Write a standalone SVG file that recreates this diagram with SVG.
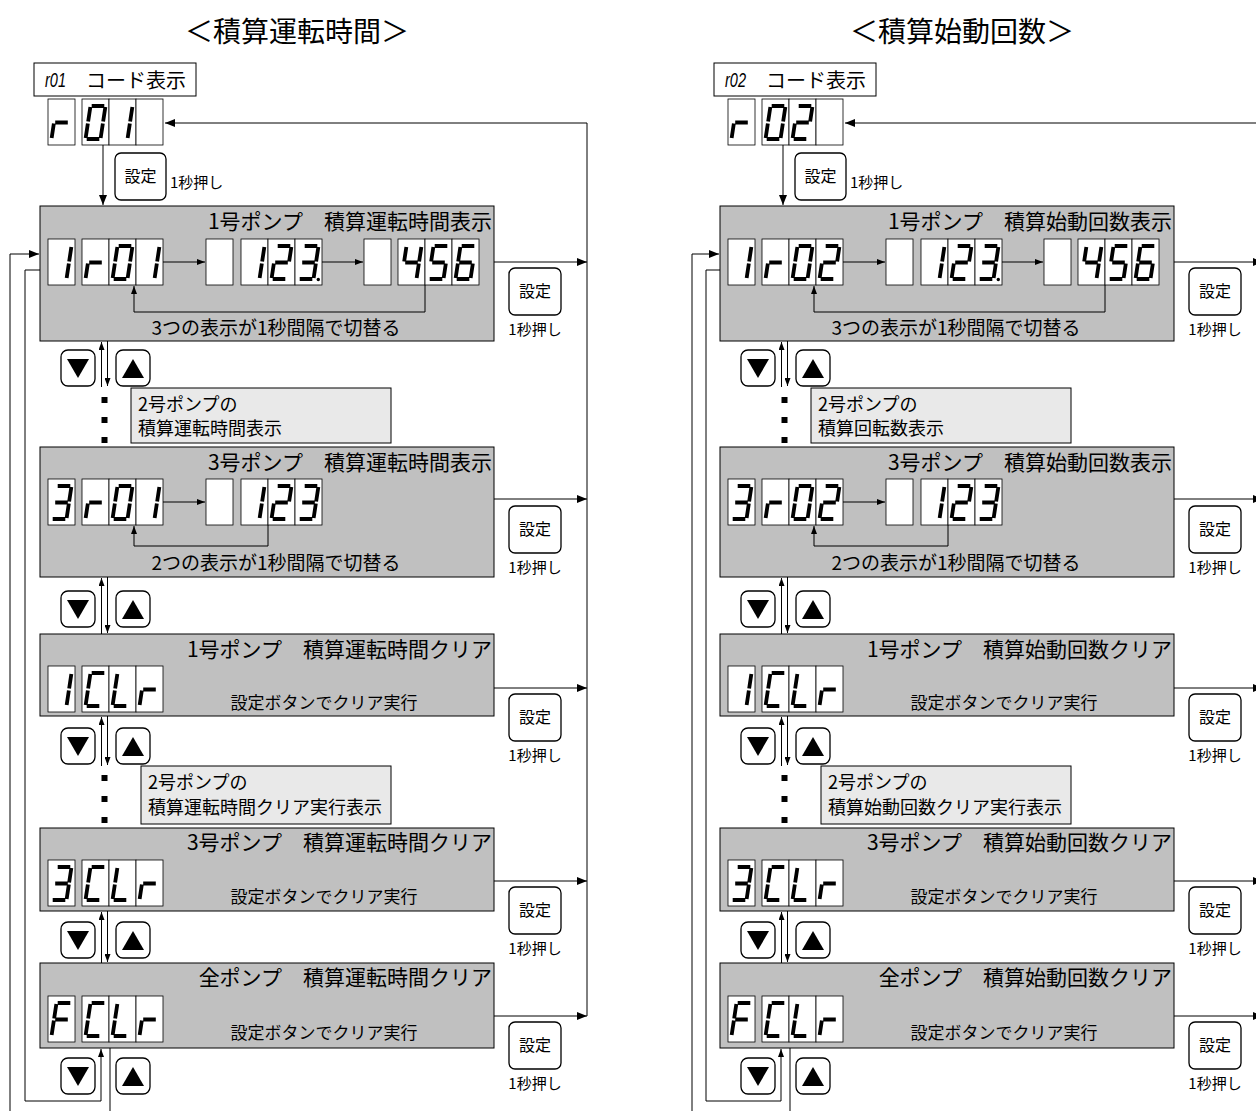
<svg xmlns="http://www.w3.org/2000/svg" width="1256" height="1111" viewBox="0 0 1256 1111">
<style>
text{font-family:"Noto Sans CJK JP","Noto Sans",sans-serif;fill:#000}
.ttl{font-size:28px;text-anchor:middle}
.lbl{font-size:20px}
.it{font-family:"Liberation Sans",Arial,sans-serif;font-style:italic;font-size:20px}
.box{fill:#c0c0c0;stroke:#000;stroke-width:1}
.note{fill:#e9e9e9;stroke:#000;stroke-width:1}
.wbox{fill:#fff;stroke:#000;stroke-width:1}
.bt{font-size:21px;text-anchor:end}
.sub{font-size:19px;text-anchor:middle}
.clr{font-size:17px;text-anchor:middle}
.nt{font-size:18px}
.set{font-size:16px;text-anchor:middle}
.sec{font-size:15px;text-anchor:middle}
.btn{fill:#fff;stroke:#000;stroke-width:1.3}
.cell{fill:#fff;stroke:#000;stroke-width:0.8}
.seg{fill:none;stroke:#000;stroke-width:3.8}
.ln{fill:none;stroke:#000;stroke-width:1}
.dot{fill:#000}
</style>
<defs>
<marker id="ah" viewBox="0 0 10 8" refX="10" refY="4" markerWidth="10" markerHeight="8" markerUnits="userSpaceOnUse" orient="auto"><path d="M0 0L10 4L0 8z"/></marker>
<marker id="as" viewBox="0 0 8 6" refX="8" refY="3" markerWidth="8" markerHeight="6" markerUnits="userSpaceOnUse" orient="auto"><path d="M0 0L8 3L0 6z"/></marker>
<g id="kb"><rect class="cell" width="27" height="46"/></g>
<g id="k0"><rect class="cell" width="27" height="46"/><path class="seg" d="M9.7 7H22.3M23.35 8L21.15 22.5M20.85 24.5L18.65 39M4.7 40H17.3M5.85 24.5L3.65 39M8.35 8L6.15 22.5"/></g>
<g id="k1"><rect class="cell" width="27" height="46"/><path class="seg" d="M23.35 8L21.15 22.5M20.85 24.5L18.65 39"/></g>
<g id="k2"><rect class="cell" width="27" height="46"/><path class="seg" d="M9.7 7H22.3M23.35 8L21.15 22.5M7.2 23.5H19.8M5.85 24.5L3.65 39M4.7 40H17.3"/></g>
<g id="k3"><rect class="cell" width="27" height="46"/><path class="seg" d="M9.7 7H22.3M23.35 8L21.15 22.5M7.2 23.5H19.8M20.85 24.5L18.65 39M4.7 40H17.3"/></g>
<g id="k3d"><rect class="cell" width="27" height="46"/><path class="seg" d="M9.7 7H22.3M23.35 8L21.15 22.5M7.2 23.5H19.8M20.85 24.5L18.65 39M4.7 40H17.3"/><circle cx="23.3" cy="40.5" r="1.7"/></g>
<g id="k4"><rect class="cell" width="27" height="46"/><path class="seg" d="M8.35 8L6.15 22.5M7.2 23.5H19.8M23.35 8L21.15 22.5M20.85 24.5L18.65 39"/></g>
<g id="k5"><rect class="cell" width="27" height="46"/><path class="seg" d="M9.7 7H22.3M8.35 8L6.15 22.5M7.2 23.5H19.8M20.85 24.5L18.65 39M4.7 40H17.3"/></g>
<g id="k6"><rect class="cell" width="27" height="46"/><path class="seg" d="M9.7 7H22.3M8.35 8L6.15 22.5M7.2 23.5H19.8M5.85 24.5L3.65 39M20.85 24.5L18.65 39M4.7 40H17.3"/></g>
<g id="kr"><rect class="cell" width="27" height="46"/><path class="seg" d="M5.85 24.5L3.65 39M7.2 23.5H19.8"/></g>
<g id="kC"><rect class="cell" width="27" height="46"/><path class="seg" d="M9.7 7H22.3M8.35 8L6.15 22.5M5.85 24.5L3.65 39M4.7 40H17.3"/></g>
<g id="kL"><rect class="cell" width="27" height="46"/><path class="seg" d="M8.35 8L6.15 22.5M5.85 24.5L3.65 39M4.7 40H17.3"/></g>
<g id="kF"><rect class="cell" width="27" height="46"/><path class="seg" d="M9.7 7H22.3M8.35 8L6.15 22.5M7.2 23.5H19.8M5.85 24.5L3.65 39"/></g>
<g id="bdn"><rect class="btn" width="34" height="36" rx="7"/><path d="M6 9H28L17 28z"/></g>
<g id="bup"><rect class="btn" width="34" height="36" rx="7"/><path d="M6 28H28L17 9z"/></g>
</defs>

<rect width="1256" height="1111" fill="#fff"/>

<!-- ===== LEFT PANEL ===== -->
<g id="title-left"><text class="ttl" x="297" y="42">＜積算運転時間＞</text></g>

<g id="L-code">
<rect class="wbox" x="34" y="63" width="162" height="33"/>
<text class="it" x="45" y="87" textLength="21" lengthAdjust="spacingAndGlyphs">r01</text>
<text class="lbl" x="86" y="88">コード表示</text>
<use href="#kr" x="48" y="99"/><use href="#k0" x="82" y="99"/><use href="#k1" x="109" y="99"/><use href="#kb" x="136" y="99"/>
</g>
<g id="L-set0"><rect class="btn" x="115" y="153" width="51" height="47" rx="6"/><text class="set" x="140.5" y="182">設定</text><text class="sec" x="170" y="188" style="text-anchor:start">1秒押し</text></g>

<g id="L-box1">
<rect class="box" x="40" y="206" width="454" height="135"/>
<text class="bt" x="492" y="229">1号ポンプ　積算運転時間表示</text>
<use href="#k1" x="48" y="239"/><use href="#kr" x="82" y="239"/><use href="#k0" x="109" y="239"/><use href="#k1" x="136" y="239"/>
<use href="#kb" x="206" y="239"/><use href="#k1" x="241" y="239"/><use href="#k2" x="268" y="239"/><use href="#k3d" x="295" y="239"/>
<use href="#kb" x="364" y="239"/><use href="#k4" x="398" y="239"/><use href="#k5" x="425" y="239"/><use href="#k6" x="452" y="239"/>
<text class="sub" x="276" y="335">3つの表示が1秒間隔で切替る</text>
</g>
<g id="L-set1"><rect class="btn" x="509" y="268" width="52" height="47" rx="6"/><text class="set" x="535" y="297">設定</text><text class="sec" x="535" y="335">1秒押し</text></g>
<g id="L-ud1"><use href="#bdn" x="61" y="350"/><use href="#bup" x="116" y="350"/></g>
<g id="L-dots1"><rect class="dot" x="101.5" y="397" width="6" height="6"/><rect class="dot" x="101.5" y="417" width="6" height="6"/><rect class="dot" x="101.5" y="437" width="6" height="6"/></g>
<g id="L-note1"><rect class="note" x="131" y="388" width="260" height="55"/><text class="nt" x="138" y="411">2号ポンプの</text><text class="nt" x="138" y="435">積算運転時間表示</text></g>

<g id="L-box3">
<rect class="box" x="40" y="447" width="454" height="130"/>
<text class="bt" x="492" y="470">3号ポンプ　積算運転時間表示</text>
<use href="#k3" x="48" y="479"/><use href="#kr" x="82" y="479"/><use href="#k0" x="109" y="479"/><use href="#k1" x="136" y="479"/>
<use href="#kb" x="206" y="479"/><use href="#k1" x="241" y="479"/><use href="#k2" x="268" y="479"/><use href="#k3" x="295" y="479"/>
<text class="sub" x="276" y="570">2つの表示が1秒間隔で切替る</text>
</g>
<g id="L-set3"><rect class="btn" x="509" y="506" width="52" height="47" rx="6"/><text class="set" x="535" y="535">設定</text><text class="sec" x="535" y="573">1秒押し</text></g>
<g id="L-ud2"><use href="#bdn" x="61" y="591"/><use href="#bup" x="116" y="591"/></g>

<g id="L-clr1">
<rect class="box" x="40" y="634" width="454" height="82"/>
<text class="bt" x="492" y="657">1号ポンプ　積算運転時間クリア</text>
<use href="#k1" x="48" y="666"/><use href="#kC" x="82" y="666"/><use href="#kL" x="109" y="666"/><use href="#kr" x="136" y="666"/>
<text class="clr" x="324" y="709">設定ボタンでクリア実行</text>
</g>
<g id="L-setc1"><rect class="btn" x="509" y="694" width="52" height="47" rx="6"/><text class="set" x="535" y="723">設定</text><text class="sec" x="535" y="761">1秒押し</text></g>
<g id="L-ud3"><use href="#bdn" x="61" y="728"/><use href="#bup" x="116" y="728"/></g>
<g id="L-dots2"><rect class="dot" x="101.5" y="775" width="6" height="6"/><rect class="dot" x="101.5" y="796" width="6" height="6"/><rect class="dot" x="101.5" y="817" width="6" height="6"/></g>
<g id="L-note2"><rect class="note" x="141" y="766" width="250" height="58"/><text class="nt" x="148" y="789">2号ポンプの</text><text class="nt" x="148" y="814">積算運転時間クリア実行表示</text></g>

<g id="L-clr3">
<rect class="box" x="40" y="828" width="454" height="83"/>
<text class="bt" x="492" y="850">3号ポンプ　積算運転時間クリア</text>
<use href="#k3" x="48" y="860"/><use href="#kC" x="82" y="860"/><use href="#kL" x="109" y="860"/><use href="#kr" x="136" y="860"/>
<text class="clr" x="324" y="903">設定ボタンでクリア実行</text>
</g>
<g id="L-setc3"><rect class="btn" x="509" y="887" width="52" height="47" rx="6"/><text class="set" x="535" y="916">設定</text><text class="sec" x="535" y="954">1秒押し</text></g>
<g id="L-ud4"><use href="#bdn" x="61" y="922"/><use href="#bup" x="116" y="922"/></g>

<g id="L-fclr">
<rect class="box" x="40" y="963" width="454" height="85"/>
<text class="bt" x="492" y="985">全ポンプ　積算運転時間クリア</text>
<use href="#kF" x="48" y="996"/><use href="#kC" x="82" y="996"/><use href="#kL" x="109" y="996"/><use href="#kr" x="136" y="996"/>
<text class="clr" x="324" y="1039">設定ボタンでクリア実行</text>
</g>
<g id="L-setf"><rect class="btn" x="509" y="1022" width="52" height="47" rx="6"/><text class="set" x="535" y="1051">設定</text><text class="sec" x="535" y="1089">1秒押し</text></g>
<g id="L-ud5"><use href="#bdn" x="61" y="1058"/><use href="#bup" x="116" y="1058"/></g>

<g id="L-connectors" class="ln">
<path class="ln" d="M587 123H165" marker-end="url(#ah)"/>
<path class="ln" d="M587 123V1016"/>
<path class="ln" d="M103 145V205" marker-end="url(#ah)"/>
<path class="ln" d="M494 262H587" marker-end="url(#ah)"/>
<path class="ln" d="M494 499H587" marker-end="url(#ah)"/>
<path class="ln" d="M494 688H587" marker-end="url(#ah)"/>
<path class="ln" d="M494 881H587" marker-end="url(#ah)"/>
<path class="ln" d="M494 1016H587" marker-end="url(#ah)"/>
<path class="ln" d="M163 262H205" marker-end="url(#as)"/>
<path class="ln" d="M322 262H363" marker-end="url(#as)"/>
<path class="ln" d="M425 285V312H134V286" marker-end="url(#as)"/>
<path class="ln" d="M163 502H205" marker-end="url(#as)"/>
<path class="ln" d="M268 525V546H134V526" marker-end="url(#as)"/>
<path class="ln" d="M101.5 387V342" marker-end="url(#as)"/>
<path class="ln" d="M107.5 341V386" marker-end="url(#as)"/>
<path class="ln" d="M101.5 634V578" marker-end="url(#as)"/>
<path class="ln" d="M107.5 577V633" marker-end="url(#as)"/>
<path class="ln" d="M101.5 766V717" marker-end="url(#as)"/>
<path class="ln" d="M107.5 716V765" marker-end="url(#as)"/>
<path class="ln" d="M101.5 963V912" marker-end="url(#as)"/>
<path class="ln" d="M107.5 911V962" marker-end="url(#as)"/>
<path class="ln" d="M40 270H25V1101H101V1049" marker-end="url(#as)"/>
<path class="ln" d="M110 1048V1111"/>
<path class="ln" d="M10 1111V254H39" marker-end="url(#ah)"/>
</g>

<!-- ===== RIGHT PANEL ===== -->
<g id="title-right"><text class="ttl" x="962" y="42">＜積算始動回数＞</text></g>
<g transform="translate(680 0)">
<g id="R-code">
<rect class="wbox" x="34" y="63" width="162" height="33"/>
<text class="it" x="45" y="87" textLength="21" lengthAdjust="spacingAndGlyphs">r02</text>
<text class="lbl" x="86" y="88">コード表示</text>
<use href="#kr" x="48" y="99"/><use href="#k0" x="82" y="99"/><use href="#k2" x="109" y="99"/><use href="#kb" x="136" y="99"/>
</g>
<g id="R-set0"><rect class="btn" x="115" y="153" width="51" height="47" rx="6"/><text class="set" x="140.5" y="182">設定</text><text class="sec" x="170" y="188" style="text-anchor:start">1秒押し</text></g>

<g id="R-box1">
<rect class="box" x="40" y="206" width="454" height="135"/>
<text class="bt" x="492" y="229">1号ポンプ　積算始動回数表示</text>
<use href="#k1" x="48" y="239"/><use href="#kr" x="82" y="239"/><use href="#k0" x="109" y="239"/><use href="#k2" x="136" y="239"/>
<use href="#kb" x="206" y="239"/><use href="#k1" x="241" y="239"/><use href="#k2" x="268" y="239"/><use href="#k3d" x="295" y="239"/>
<use href="#kb" x="364" y="239"/><use href="#k4" x="398" y="239"/><use href="#k5" x="425" y="239"/><use href="#k6" x="452" y="239"/>
<text class="sub" x="276" y="335">3つの表示が1秒間隔で切替る</text>
</g>
<g id="R-set1"><rect class="btn" x="509" y="268" width="52" height="47" rx="6"/><text class="set" x="535" y="297">設定</text><text class="sec" x="535" y="335">1秒押し</text></g>
<g id="R-ud1"><use href="#bdn" x="61" y="350"/><use href="#bup" x="116" y="350"/></g>
<g id="R-dots1"><rect class="dot" x="101.5" y="397" width="6" height="6"/><rect class="dot" x="101.5" y="417" width="6" height="6"/><rect class="dot" x="101.5" y="437" width="6" height="6"/></g>
<g id="R-note1"><rect class="note" x="131" y="388" width="260" height="55"/><text class="nt" x="138" y="411">2号ポンプの</text><text class="nt" x="138" y="435">積算回転数表示</text></g>

<g id="R-box3">
<rect class="box" x="40" y="447" width="454" height="130"/>
<text class="bt" x="492" y="470">3号ポンプ　積算始動回数表示</text>
<use href="#k3" x="48" y="479"/><use href="#kr" x="82" y="479"/><use href="#k0" x="109" y="479"/><use href="#k2" x="136" y="479"/>
<use href="#kb" x="206" y="479"/><use href="#k1" x="241" y="479"/><use href="#k2" x="268" y="479"/><use href="#k3" x="295" y="479"/>
<text class="sub" x="276" y="570">2つの表示が1秒間隔で切替る</text>
</g>
<g id="R-set3"><rect class="btn" x="509" y="506" width="52" height="47" rx="6"/><text class="set" x="535" y="535">設定</text><text class="sec" x="535" y="573">1秒押し</text></g>
<g id="R-ud2"><use href="#bdn" x="61" y="591"/><use href="#bup" x="116" y="591"/></g>

<g id="R-clr1">
<rect class="box" x="40" y="634" width="454" height="82"/>
<text class="bt" x="492" y="657">1号ポンプ　積算始動回数クリア</text>
<use href="#k1" x="48" y="666"/><use href="#kC" x="82" y="666"/><use href="#kL" x="109" y="666"/><use href="#kr" x="136" y="666"/>
<text class="clr" x="324" y="709">設定ボタンでクリア実行</text>
</g>
<g id="R-setc1"><rect class="btn" x="509" y="694" width="52" height="47" rx="6"/><text class="set" x="535" y="723">設定</text><text class="sec" x="535" y="761">1秒押し</text></g>
<g id="R-ud3"><use href="#bdn" x="61" y="728"/><use href="#bup" x="116" y="728"/></g>
<g id="R-dots2"><rect class="dot" x="101.5" y="775" width="6" height="6"/><rect class="dot" x="101.5" y="796" width="6" height="6"/><rect class="dot" x="101.5" y="817" width="6" height="6"/></g>
<g id="R-note2"><rect class="note" x="141" y="766" width="250" height="58"/><text class="nt" x="148" y="789">2号ポンプの</text><text class="nt" x="148" y="814">積算始動回数クリア実行表示</text></g>

<g id="R-clr3">
<rect class="box" x="40" y="828" width="454" height="83"/>
<text class="bt" x="492" y="850">3号ポンプ　積算始動回数クリア</text>
<use href="#k3" x="48" y="860"/><use href="#kC" x="82" y="860"/><use href="#kL" x="109" y="860"/><use href="#kr" x="136" y="860"/>
<text class="clr" x="324" y="903">設定ボタンでクリア実行</text>
</g>
<g id="R-setc3"><rect class="btn" x="509" y="887" width="52" height="47" rx="6"/><text class="set" x="535" y="916">設定</text><text class="sec" x="535" y="954">1秒押し</text></g>
<g id="R-ud4"><use href="#bdn" x="61" y="922"/><use href="#bup" x="116" y="922"/></g>

<g id="R-fclr">
<rect class="box" x="40" y="963" width="454" height="85"/>
<text class="bt" x="492" y="985">全ポンプ　積算始動回数クリア</text>
<use href="#kF" x="48" y="996"/><use href="#kC" x="82" y="996"/><use href="#kL" x="109" y="996"/><use href="#kr" x="136" y="996"/>
<text class="clr" x="324" y="1039">設定ボタンでクリア実行</text>
</g>
<g id="R-setf"><rect class="btn" x="509" y="1022" width="52" height="47" rx="6"/><text class="set" x="535" y="1051">設定</text><text class="sec" x="535" y="1089">1秒押し</text></g>
<g id="R-ud5"><use href="#bdn" x="61" y="1058"/><use href="#bup" x="116" y="1058"/></g>

<g id="R-connectors">
<path class="ln" d="M583 123H165" marker-end="url(#ah)"/>
<path class="ln" d="M583 123V1016"/>
<path class="ln" d="M103 145V205" marker-end="url(#ah)"/>
<path class="ln" d="M494 262H583" marker-end="url(#ah)"/>
<path class="ln" d="M494 499H583" marker-end="url(#ah)"/>
<path class="ln" d="M494 688H583" marker-end="url(#ah)"/>
<path class="ln" d="M494 881H583" marker-end="url(#ah)"/>
<path class="ln" d="M494 1016H583" marker-end="url(#ah)"/>
<path class="ln" d="M163 262H205" marker-end="url(#as)"/>
<path class="ln" d="M322 262H363" marker-end="url(#as)"/>
<path class="ln" d="M425 285V312H134V286" marker-end="url(#as)"/>
<path class="ln" d="M163 502H205" marker-end="url(#as)"/>
<path class="ln" d="M268 525V546H134V526" marker-end="url(#as)"/>
<path class="ln" d="M101.5 387V342" marker-end="url(#as)"/>
<path class="ln" d="M107.5 341V386" marker-end="url(#as)"/>
<path class="ln" d="M101.5 634V578" marker-end="url(#as)"/>
<path class="ln" d="M107.5 577V633" marker-end="url(#as)"/>
<path class="ln" d="M101.5 766V717" marker-end="url(#as)"/>
<path class="ln" d="M107.5 716V765" marker-end="url(#as)"/>
<path class="ln" d="M101.5 963V912" marker-end="url(#as)"/>
<path class="ln" d="M107.5 911V962" marker-end="url(#as)"/>
<path class="ln" d="M40 270H26V1101H101V1049" marker-end="url(#as)"/>
<path class="ln" d="M110 1048V1111"/>
<path class="ln" d="M12 1111V254H39" marker-end="url(#ah)"/>
</g>
</g>
</svg>
